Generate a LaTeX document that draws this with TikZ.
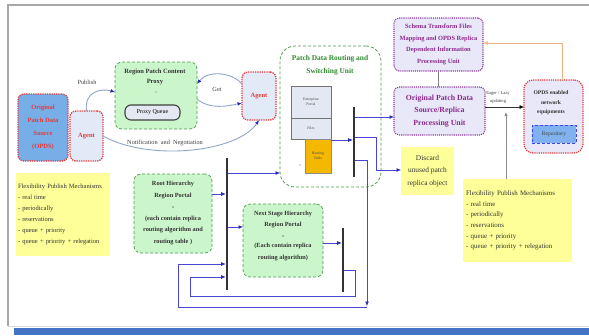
\documentclass[tikz,border=0pt]{standalone}
\usepackage{fontspec}
\setmainfont{Liberation Serif}
\usetikzlibrary{arrows.meta}
\newcommand\myfs[2]{\fontsize{#1}{#2}\selectfont}

\definecolor{opdsblue}{HTML}{78AEE8}
\definecolor{agentfill}{HTML}{E3EAF7}
\definecolor{redline}{HTML}{E03C3C}
\definecolor{greenfill}{HTML}{CBF5CB}
\definecolor{greenline}{HTML}{4E9A4E}
\definecolor{greentext}{HTML}{2E8B2E}
\definecolor{stackfill}{HTML}{E4E8F2}
\definecolor{tablefill}{HTML}{F5B800}
\definecolor{purplefill}{HTML}{E8E8F8}
\definecolor{purpleline}{HTML}{8A3A9A}
\definecolor{purpletext}{HTML}{8B2A8B}
\definecolor{noteyellow}{HTML}{FFFF99}
\definecolor{flowblue}{HTML}{4646D2}
\definecolor{tipblue}{HTML}{2828B4}
\definecolor{curvecol}{HTML}{8EA6C6}
\definecolor{repofill}{HTML}{7FB2EE}
\definecolor{orangeline}{HTML}{F4B183}
\definecolor{framegray}{HTML}{A8A8A8}
\definecolor{barblue}{HTML}{4472C4}

\begin{document}
\begin{tikzpicture}[x=1pt,y=-1pt,
  every node/.style={inner sep=1pt, outer sep=0pt},
  opdsbox/.style={draw=redline, densely dotted, line width=1.3pt, fill=opdsblue,
    rounded corners=6pt, text=redline, font=\bfseries\myfs{6.5}{13}, align=center},
  agentbox/.style={draw=redline, densely dotted, line width=1.3pt, fill=agentfill,
    rounded corners=6pt, text=redline, font=\bfseries\myfs{6.5}{8}, align=center},
  greenbox/.style={draw=greenline, densely dashed, line width=0.7pt, fill=greenfill,
    rounded corners=7pt},
  unitbox/.style={draw=greenline, densely dashed, line width=0.8pt, fill=white,
    rounded corners=15pt},
  queuebox/.style={draw=black!75, line width=1.1pt, fill=stackfill, rounded corners=6pt,
    font=\myfs{6}{7}},
  stackbox/.style={draw=black!55, line width=0.6pt, fill=stackfill,
    font=\myfs{3.8}{5}, align=center, text=black!70},
  tablebox/.style={draw=black!45, line width=0.6pt, fill=tablefill,
    font=\myfs{3.8}{5}, align=center, text=black!70},
  purplebox/.style={draw=purpleline, densely dotted, line width=1.1pt, fill=purplefill,
    rounded corners=5pt, text=purpletext, align=center},
  netbox/.style={draw=redline, densely dotted, line width=1.2pt, fill=purplefill,
    rounded corners=9pt},
  repobox/.style={draw=blue!75, densely dashed, line width=1pt, fill=repofill,
    font=\myfs{5.5}{6}, text=black!75},
  notebox/.style={fill=noteyellow, align=left, text=black!80},
  boxtext/.style={font=\bfseries\myfs{6.3}{11.5}, align=center, text=black!80},
  tinymark/.style={font=\myfs{3.5}{4}, text=black!60},
  lbl/.style={font=\myfs{6.3}{7}, text=black!75},
  bus/.style={fill=black!80, minimum width=2.6pt, inner sep=0pt},
  flow/.style={draw=flowblue, line width=0.6pt, -{Latex[length=4.5pt,width=3.8pt,color=tipblue]}},
  curve/.style={draw=curvecol, line width=0.9pt, -{Latex[length=4.5pt,width=3.8pt,color=tipblue]}},
]
\useasboundingbox (0,0) rectangle (589,335);

% page sheet and bottom band
\fill[white] (0,0) rectangle (589,335);
\draw[framegray, line width=1.2pt] (8,326) -- (8,5) -- (589,5);
\draw[black!15, line width=1pt] (8,326.5) -- (589,326.5);
\fill[barblue] (14,328) rectangle (589,335);

% left side: source, agent, proxy
\node[opdsbox, minimum width=50pt, minimum height=67pt] (opds) at (43,127.5)
  {Original\\Patch Data\\Source\\(OPDS)};
\node[agentbox, minimum width=33pt, minimum height=50pt] (agentL) at (86.5,136) {Agent};

\node[greenbox, minimum width=82pt, minimum height=67pt] (proxy) at (156,95.5) {};
\node[boxtext, font=\bfseries\myfs{6.5}{10}] (proxytitle) at (155,77) {Region Patch Content\\Proxy};
\node[tinymark] (proxymark) at (156,93) {x};
\node[queuebox, minimum width=55pt, minimum height=15pt] (queue) at (152.5,112.5) {Proxy Queue};

\node[agentbox, minimum width=34pt, minimum height=48pt] (agentR) at (259,96) {Agent};

% routing and switching unit
\node[unitbox, minimum width=101pt, minimum height=141pt] (unit) at (330.5,116.5) {};
\node[font=\bfseries\myfs{7.4}{13}, text=greentext, align=center] (unittitle) at (330,65)
  {Patch Data Routing and\\Switching Unit};
\node[stackbox, minimum width=40pt, minimum height=32pt] (portal) at (311,102) {Enterprise\\Portal};
\node[stackbox, minimum width=40pt, minimum height=21pt] (files) at (311,128.5) {Files};
\node[tablebox, minimum width=26pt, minimum height=34pt] (rtable) at (318,156) {Routing\\Table};
\node[tinymark] (tablemark) at (300,166) {x};
\node[bus, minimum height=70pt] (busR) at (354,142) {};

% right side: processing units and network equipment
\node[purplebox, minimum width=89pt, minimum height=53pt, font=\bfseries\myfs{6.4}{11.6}]
  (schema) at (438.5,44.5)
  {Schema Transform Files\\Mapping and OPDS Replica\\Dependent Information\\Processing Unit};
\node[purplebox, minimum width=91pt, minimum height=48pt, font=\bfseries\myfs{7.8}{12.5}]
  (orig) at (439.5,111) {Original Patch Data\\Source/Replica\\Processing Unit};
\node[netbox, minimum width=59pt, minimum height=73pt] (net) at (553.5,116.5) {};
\node[boxtext, font=\bfseries\myfs{5.6}{9.5}] (nettext) at (551,103) {OPDS enabled\\network\\equipments};
\node[repobox, minimum width=44pt, minimum height=18pt] (repo) at (554,134) {Repository};

\node[notebox, align=center, minimum width=53pt, minimum height=48pt, font=\myfs{7.4}{12.5}]
  (discard) at (427.5,171) {Discard\\unused patch\\replica object};

% publish mechanism notes
\node[notebox, text width=90pt, minimum height=83pt, inner xsep=2pt, font=\myfs{6.5}{11}]
  (noteL) at (63,214.5)
  {Flexibility Publish Mechanisms\\- real time\\- periodically\\- reservations\\- queue + priority\\- queue + priority + relegation};
\node[notebox, text width=103pt, minimum height=83pt, inner xsep=3pt, font=\myfs{6.9}{10.6}]
  (noteR) at (517.5,220.5)
  {Flexibility Publish Mechanisms\\- real time\\- periodically\\- reservations\\- queue + priority\\- queue + priority + relegation};

% hierarchy portals and buses
\node[greenbox, minimum width=78pt, minimum height=79pt] (root) at (173,213.5) {};
\node[boxtext] (roottext) at (173,213)
  {Root Hierarchy\\Region Portal\\{\mdseries\myfs{4}{4}x}\\(each contain replica\\routing algorithm and\\routing table )};
\node[greenbox, minimum width=80pt, minimum height=73pt] (next) at (283,240.5) {};
\node[boxtext] (nexttext) at (283,236)
  {Next Stage Hierarchy\\Region Portal\\[-1pt]{\mdseries\myfs{4}{4}x}\\[-1pt](Each contain replica\\routing algorithm)};
\node[bus, minimum height=132pt] (bus1) at (227,224) {};
\node[bus, minimum height=64pt] (bus2) at (343,260) {};

% publish / get / notification exchanges
\draw[curve] (agentL.north) .. controls (84,92) and (100,88) .. (proxy.west |- 0,92);
\node[lbl] (publishlbl) at (87,82) {Publish};
\draw[curve] (agentR.west |- 0,84) .. controls (232,72) and (208,70) .. (proxy.east |- 0,84);
\draw[curve] (proxy.east |- 0,99) .. controls (210,110) and (228,106) .. (agentR.west |- 0,103);
\node[lbl] (getlbl) at (217,89) {Get};
\draw[curve] (agentL.east |- 0,136) .. controls (150,162) and (238,152) .. (agentR.south);
\node[lbl] (notiflbl) at (165,142.5) {Notification \ and \ Negotiation};

% routing unit outputs
\draw[flow] (rtable.east |- 0,140) -- (busR.west |- 0,140);
\draw[flow] (busR.east |- 0,117) -- (orig.west |- 0,117);
\draw[flow] (busR.east |- 0,137) -- (376,137) -- (376,170) -- (discard.west |- 0,170);
\draw[flow] (busR.east |- 0,160) -- (367,160) -- (367,306);
\coordinate (loopA) at (367,307);
\draw[flow] (loopA) -- (178,307) -- (178,264) -- (bus1.west |- 0,264);

% hierarchy flows
\draw[flow] (root.east |- 0,194) -- (bus1.west |- 0,194);
\draw[flow] (bus1.east |- 0,173) -- (unit.west |- 0,173);
\draw[flow] (bus1.east |- 0,227) -- (next.west |- 0,227);
\draw[flow] (next.east |- 0,243) -- (bus2.west |- 0,243);
\draw[flow] (bus2.east |- 0,270) -- (355,270) -- (355,296) -- (190,296) -- (190,277) -- (bus1.west |- 0,277);

% processing and update links
\draw[black!50, line width=1pt] (schema.south) -- (orig.north -| schema.south);
\draw[black!80, line width=0.7pt, -{Latex[length=4.5pt,width=4pt,color=black]}]
  (orig.east |- 0,107) -- (net.west |- 0,107);
\node[font=\myfs{4.6}{8}, text=black!75, align=center] (eagerlbl) at (498,97) {Eager / Lazy\\updating};
\draw[black!45, line width=0.8pt, -{Latex[length=4pt,width=3.5pt]}] (noteR.north -| 506,0) -- (506,112);
\draw[orangeline, line width=0.9pt, -{Latex[length=4.5pt,width=4pt]}]
  (net.north -| 562,0) -- (562,43) -- (schema.east |- 0,43);
\end{tikzpicture}
\end{document}
